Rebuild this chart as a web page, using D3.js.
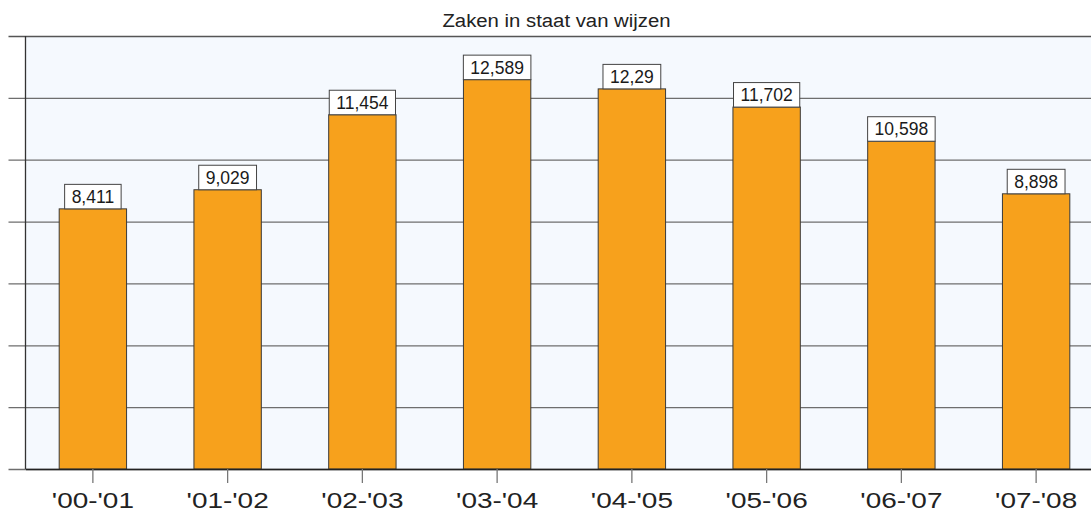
<!DOCTYPE html>
<html>
<head>
<meta charset="utf-8">
<script src="https://cdn.jsdelivr.net/npm/d3@7"></script>
<style>
  html, body { margin: 0; padding: 0; background: #ffffff; }
  svg { display: block; font-family: "Liberation Sans", Arial, sans-serif; }
</style>
</head>
<body>
<svg id="chart" width="1091" height="514"></svg>
<script>
// Caseload per year
const title = "Zaken in staat van wijzen";
const categories = ["'00-'01", "'01-'02", "'02-'03", "'03-'04", "'04-'05", "'05-'06", "'06-'07", "'07-'08"];
const values = [8.411, 9.029, 11.454, 12.589, 12.29, 11.702, 10.598, 8.898];
const valueLabels = ["8,411", "9,029", "11,454", "12,589", "12,29", "11,702", "10,598", "8,898"];
const yTicks = [0, 2, 4, 6, 8, 10, 12, 14];

const svg = d3.select("#chart");
const plot = { left: 25.5, right: 1103.5, top: 36, bottom: 469 };

const x = d3.scaleBand()
  .domain(categories)
  .range([plot.left, plot.right])
  .paddingInner(0.5)
  .paddingOuter(0.25);

const y = d3.scaleLinear()
  .domain([0, 14])
  .range([plot.bottom, plot.top]);

// plot background
svg.append("rect")
  .attr("x", plot.left).attr("y", plot.top)
  .attr("width", plot.right - plot.left).attr("height", plot.bottom - plot.top)
  .attr("fill", "#f5f9fe");

// horizontal grid lines with short stubs to the left of the axis
const yAxis = d3.axisLeft(y)
  .tickValues(yTicks)
  .tickSize(-(plot.right - plot.left))
  .tickFormat("");
const gy = svg.append("g")
  .attr("transform", `translate(${plot.left},0)`)
  .call(yAxis);
gy.select(".domain").remove();
gy.selectAll(".tick line")
  .attr("x1", -17)
  .attr("stroke", (d) => d === 14 ? "#555" : "#6e6e6e")
  .attr("stroke-width", (d) => d === 14 ? 1.6 : 1.3);

// left axis line
svg.append("line")
  .attr("x1", plot.left).attr("x2", plot.left)
  .attr("y1", plot.top).attr("y2", plot.bottom)
  .attr("stroke", "#333").attr("stroke-width", 1.3);

// bars
svg.append("g").selectAll("rect")
  .data(values)
  .join("rect")
  .attr("x", (d, i) => x(categories[i]))
  .attr("y", (d) => y(d))
  .attr("width", x.bandwidth())
  .attr("height", (d) => y(0) - y(d))
  .attr("fill", "#f7a11c")
  .attr("stroke", "#3a3a3a")
  .attr("stroke-width", 1);

// bottom axis with wide category labels
const xAxis = d3.axisBottom(x).tickSize(14).tickSizeOuter(0);
const gx = svg.append("g")
  .attr("transform", `translate(0,${plot.bottom})`)
  .call(xAxis);
gx.select(".domain").attr("stroke", "#222").attr("stroke-width", 1.3);
gx.selectAll(".tick line").attr("stroke", "#777").attr("stroke-width", 1.3);
gx.selectAll(".tick text")
  .attr("y", 0)
  .attr("dy", 0)
  .attr("transform", "translate(0,39) scale(1.27,1)")
  .attr("fill", "#222")
  .style("font-size", "22px")
  .style("font-family", "'Liberation Sans', Arial, sans-serif");

// value labels in boxes sitting on the bars
const lab = svg.append("g").selectAll("g")
  .data(values)
  .join("g")
  .attr("transform", (d, i) => `translate(${x(categories[i]) + x.bandwidth() / 2},${y(d)})`);

lab.append("text")
  .attr("text-anchor", "middle")
  .attr("y", -6)
  .attr("fill", "#1a1a1a")
  .style("font-size", "17.5px")
  .text((d, i) => valueLabels[i]);

lab.each(function () {
  const g = d3.select(this);
  const w = g.select("text").node().getComputedTextLength() + 14;
  g.insert("rect", "text")
    .attr("x", -w / 2)
    .attr("y", -24.5)
    .attr("width", w)
    .attr("height", 24.5)
    .attr("fill", "#ffffff")
    .attr("stroke", "#444")
    .attr("stroke-width", 1);
});

// title
svg.append("text")
  .attr("transform", `translate(${(plot.left + plot.right) / 2 - 8},27) scale(1.13,1)`)
  .attr("text-anchor", "middle")
  .attr("fill", "#222")
  .style("font-size", "18px")
  .text(title);
</script>
</body>
</html>
